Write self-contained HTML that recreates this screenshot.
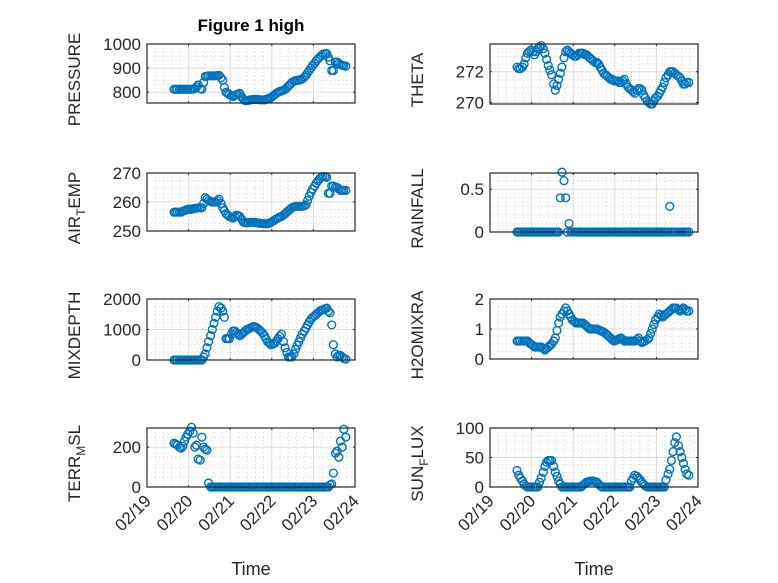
<!DOCTYPE html>
<html><head><meta charset="utf-8">
<style>
html,body{margin:0;padding:0;background:#fff;}
svg{display:block;font-family:"Liberation Sans","DejaVu Sans",sans-serif;}
</style></head>
<body>
<svg id="fig" width="778" height="583" viewBox="0 0 778 583" xmlns="http://www.w3.org/2000/svg">
<rect x="0" y="0" width="778" height="583" fill="#fff"/>
<text x="251" y="31" text-anchor="middle" font-size="17" font-weight="bold" fill="#000">Figure 1 high</text>
</svg>
<script>
const times = [19.65,19.69,19.73,19.78,19.82,19.86,19.90,19.94,19.98,20.03,20.07,20.11,20.15,20.19,20.23,20.28,20.32,20.36,20.40,20.44,20.48,20.53,20.57,20.61,20.65,20.69,20.73,20.78,20.82,20.86,20.90,20.94,20.98,21.03,21.07,21.11,21.15,21.19,21.23,21.28,21.32,21.36,21.40,21.44,21.48,21.53,21.57,21.61,21.65,21.69,21.73,21.78,21.82,21.86,21.90,21.94,21.98,22.03,22.07,22.11,22.15,22.19,22.23,22.28,22.32,22.36,22.40,22.44,22.48,22.53,22.57,22.61,22.65,22.69,22.73,22.78,22.82,22.86,22.90,22.94,22.98,23.03,23.07,23.11,23.15,23.19,23.23,23.28,23.32,23.36,23.40,23.44,23.48,23.53,23.57,23.61,23.65,23.69,23.73,23.78];
const pressure = [812,812,812,812,812,812,812,812,812,812,812,813,815,822,830,815,812,840,865,866,868,868,868,868,868,869,870,860,850,820,800,795,790,785,782,786,790,792,795,780,770,765,765,766,768,769,770,770,770,769,768,768,768,770,772,775,778,784,790,795,800,803,805,808,812,818,825,832,840,845,848,849,850,852,855,862,870,880,890,900,910,920,930,938,945,952,958,960,960,945,930,890,890,925,925,920,915,912,910,908];
const theta = [272.3,272.2,272.2,272.3,272.5,272.9,273.2,273.3,273.4,273.3,273.1,273.3,273.5,273.6,273.7,273.5,273.2,272.8,272.4,272.1,271.8,271.2,270.8,271.1,271.5,271.9,272.3,272.9,273.3,273.4,273.3,273.2,273.1,273.0,273.0,273.1,273.2,273.2,273.2,273.1,273.1,273.0,272.9,272.8,272.7,272.6,272.6,272.5,272.3,272.1,271.9,271.8,271.7,271.6,271.5,271.5,271.4,271.4,271.4,271.3,271.3,271.4,271.5,271.2,271.0,270.9,270.8,270.7,270.6,270.8,270.9,270.9,270.8,270.5,270.3,270.1,270.0,269.9,269.9,270.1,270.3,270.4,270.6,270.8,271.0,271.3,271.6,271.8,272.0,272.0,272.0,271.9,271.8,271.7,271.6,271.4,271.2,271.2,271.3,271.3];
const airTemp = [256.5,256.5,256.5,256.5,256.5,256.8,257,257.3,257.5,257.5,257.5,257.7,257.8,257.9,258,258,258,259.5,261.5,261,260.5,260.2,260,260,260,260.5,261,259.5,258,257,256,255.5,255,254.7,254.5,255,255.5,255.3,255,254,253,252.9,252.8,252.9,253,253,253,252.9,252.8,252.7,252.7,252.6,252.5,252.5,252.5,252.7,253,253.4,253.8,254.2,254.5,254.8,255,255.5,256,256.5,257,257.5,258,258.3,258.5,258.5,258.5,258.5,258.5,258.7,259,260.5,262,263.3,264.5,265.5,266.5,267.3,268,268.5,268.8,268.7,268.5,263,263,265.5,265.5,265.2,265,264.5,264,264,264,264];
const rainfall = [0,0,0,0,0,0,0,0,0,0,0,0,0,0,0,0,0,0,0,0,0,0,0,0,0,0.4,0.7,0.6,0.4,0,0.1,0,0,0,0,0,0,0,0,0,0,0,0,0,0,0,0,0,0,0,0,0,0,0,0,0,0,0,0,0,0,0,0,0,0,0,0,0,0,0,0,0,0,0,0,0,0,0,0,0,0,0,0,0,0,0,0,0,0.3,0,0,0,0,0,0,0,0,0,0,0];
const mixDepth = [0,0,0,0,0,0,0,0,0,0,0,0,0,0,0,0,0,100,200,400,600,800,1000,1200,1400,1600,1750,1700,1600,1400,700,700,700,850,950,950,900,850,800,850,900,950,1000,1020,1050,1080,1100,1080,1050,1000,950,880,800,700,600,550,500,520,550,620,700,780,850,600,400,250,100,100,100,200,350,480,600,720,850,950,1050,1150,1250,1330,1400,1450,1500,1550,1600,1630,1650,1680,1700,1600,1550,1150,500,200,100,150,150,100,50,30];
const h2oMix = [0.6,0.6,0.6,0.6,0.6,0.6,0.6,0.55,0.5,0.45,0.4,0.4,0.4,0.4,0.4,0.35,0.3,0.35,0.4,0.45,0.5,0.6,0.7,0.95,1.2,1.4,1.5,1.6,1.7,1.6,1.5,1.4,1.3,1.25,1.2,1.2,1.2,1.2,1.2,1.15,1.1,1.05,1.0,1.0,1.0,1.0,1.0,0.97,0.95,0.92,0.9,0.85,0.8,0.75,0.7,0.65,0.6,0.62,0.65,0.68,0.7,0.65,0.6,0.6,0.6,0.6,0.6,0.6,0.6,0.65,0.7,0.6,0.55,0.58,0.6,0.65,0.7,0.85,1.0,1.15,1.3,1.4,1.5,1.45,1.4,1.45,1.5,1.55,1.6,1.65,1.7,1.7,1.7,1.65,1.6,1.65,1.7,1.65,1.6,1.6];
const terrMsl = [220,215,210,200,195,205,230,250,265,280,300,270,200,210,140,135,250,200,190,185,20,0,0,0,0,0,0,0,0,0,0,0,0,0,0,0,0,0,0,0,0,0,0,0,0,0,0,0,0,0,0,0,0,0,0,0,0,0,0,0,0,0,0,0,0,0,0,0,0,0,0,0,0,0,0,0,0,0,0,0,0,0,0,0,0,0,0,0,0,0,10,15,70,170,180,150,230,200,290,250];
const sunFlux = [28,20,15,10,5,2,0,0,0,0,0,0,0,8,15,25,35,42,45,45,45,35,25,18,10,5,0,0,0,0,0,0,0,0,0,0,0,0,3,5,8,9,10,10,10,9,8,5,2,0,0,0,0,0,0,0,0,0,0,0,0,0,0,0,0,0,10,15,20,18,15,12,8,5,2,0,0,0,0,0,0,0,0,0,0,0,12,22,30,45,60,75,85,70,60,50,40,30,22,20];
const xTickDays = [19,20,21,22,23,24];
const xTickLabels = ["02/19","02/20","02/21","02/22","02/23","02/24"];

const NS = "http://www.w3.org/2000/svg";
const svg = document.getElementById("fig");
function mk(tag, attrs, parent){const e=document.createElementNS(NS,tag);for(const k in attrs)e.setAttribute(k,attrs[k]);(parent||svg).appendChild(e);return e;}

const panels = [
 {name:"pressure",vals:pressure,x0:147,x1:355,y0:44,y1:103,ymin:755,ymax:1000,ticks:[800,900,1000],minor:50,label:["PRESSURE"],bottom:false},
 {name:"theta",vals:theta,x0:490,x1:698,y0:44,y1:104,ymin:269.9,ymax:273.8,ticks:[270,272],minor:0.5,label:["THETA"],bottom:false},
 {name:"air-temp",vals:airTemp,x0:147,x1:355,y0:173,y1:231,ymin:250,ymax:270,ticks:[250,260,270],minor:2.5,label:["AIR","T","EMP"],bottom:false},
 {name:"rainfall",vals:rainfall,x0:490,x1:698,y0:173,y1:232,ymin:0,ymax:0.69,ticks:[0,0.5],minor:0.1,label:["RAINFALL"],bottom:false},
 {name:"mixdepth",vals:mixDepth,x0:147,x1:355,y0:299,y1:360,ymin:0,ymax:2000,ticks:[0,1000,2000],minor:250,label:["MIXDEPTH"],bottom:false},
 {name:"h2omixra",vals:h2oMix,x0:490,x1:698,y0:299,y1:359,ymin:0,ymax:2,ticks:[0,1,2],minor:0.25,label:["H2OMIXRA"],bottom:false},
 {name:"terr-msl",vals:terrMsl,x0:147,x1:355,y0:428,y1:487,ymin:0,ymax:296,ticks:[0,200],minor:50,label:["TERR","M","SL"],bottom:true},
 {name:"sun-flux",vals:sunFlux,x0:490,x1:698,y0:428,y1:487,ymin:0,ymax:100,ticks:[0,50,100],minor:12.5,label:["SUN","F","LUX"],bottom:true}
];

panels.forEach(p=>{
  const xs = d => p.x0 + (d-19)/5*(p.x1-p.x0);
  const ys = v => p.y1 - (v-p.ymin)/(p.ymax-p.ymin)*(p.y1-p.y0);
  const g = mk("g",{});
  
  
  mk("rect",{x:p.x0,y:p.y0,width:p.x1-p.x0,height:p.y1-p.y0,fill:"#fff"},g);
  for(let d=19;d<24;d++){for(let k=1;k<5;k++){const x=xs(d+k/5);
    mk("line",{x1:x,x2:x,y1:p.y0,y2:p.y1,stroke:"#bbb","stroke-width":0.6,"stroke-dasharray":"1 3"},g);}}
  for(let v=Math.ceil(p.ymin/p.minor)*p.minor; v<=p.ymax; v+=p.minor){
    if(p.ticks.some(t=>Math.abs(t-v)<1e-6))continue;
    const y=ys(v); mk("line",{x1:p.x0,x2:p.x1,y1:y,y2:y,stroke:"#bbb","stroke-width":0.6,"stroke-dasharray":"1 3"},g);}
  xTickDays.forEach(d=>{const x=xs(d);mk("line",{x1:x,x2:x,y1:p.y0,y2:p.y1,stroke:"#dcdcdc","stroke-width":1},g);});
  p.ticks.forEach(t=>{const y=ys(t);mk("line",{x1:p.x0,x2:p.x1,y1:y,y2:y,stroke:"#dcdcdc","stroke-width":1},g);});
  xTickDays.forEach(d=>{const x=xs(d);
    mk("line",{x1:x,x2:x,y1:p.y1,y2:p.y1-2,stroke:"#262626"},g);
    mk("line",{x1:x,x2:x,y1:p.y0,y2:p.y0+2,stroke:"#262626"},g);});
  p.ticks.forEach(t=>{const y=ys(t);
    mk("line",{x1:p.x0,x2:p.x0+2,y1:y,y2:y,stroke:"#262626"},g);
    mk("line",{x1:p.x1,x2:p.x1-2,y1:y,y2:y,stroke:"#262626"},g);
    const tl=mk("text",{x:p.x0-6,y:y+6,"text-anchor":"end","font-size":17,fill:"#262626"},g);
    tl.textContent=String(t);
    
    
  });
  const n=Math.min(times.length,p.vals.length);
  for(let i=0;i<n;i++){
    const c=mk("circle",{cx:xs(times[i]),cy:ys(p.vals[i]),r:3.9,fill:"none",stroke:"#0072BD","stroke-width":1.4},g);
    
    
  }
  mk("rect",{x:p.x0,y:p.y0,width:p.x1-p.x0,height:p.y1-p.y0,fill:"none",stroke:"#262626","stroke-width":1.2},g);
  const cy=(p.y0+p.y1)/2+6, lx=p.x0-67;
  const yl=mk("text",{x:0,y:0,"text-anchor":"middle","font-size":17,fill:"#262626",transform:`translate(${lx},${cy}) rotate(-90)`},g);
  
  
  if(p.label.length===1){yl.textContent=p.label[0];}
  else{
    const a=mk("tspan",{},yl);a.textContent=p.label[0];
    const b=mk("tspan",{dy:5,"font-size":12},yl);b.textContent=p.label[1];
    const c=mk("tspan",{dy:-5},yl);c.textContent=p.label[2];
  }
  if(p.bottom){
    xTickDays.forEach((d,i)=>{const x=xs(d);
      const t=mk("text",{x:0,y:0,"text-anchor":"end","font-size":17,fill:"#262626",transform:`translate(${x+5},${p.y1+15}) rotate(-45)`},g);
      t.textContent=xTickLabels[i];
      
      
    });
    const xt=mk("text",{x:(p.x0+p.x1)/2,y:575,"text-anchor":"middle","font-size":18,fill:"#262626"},g);
    xt.textContent="Time";
    
    
  }
});
</script>
</body></html>
